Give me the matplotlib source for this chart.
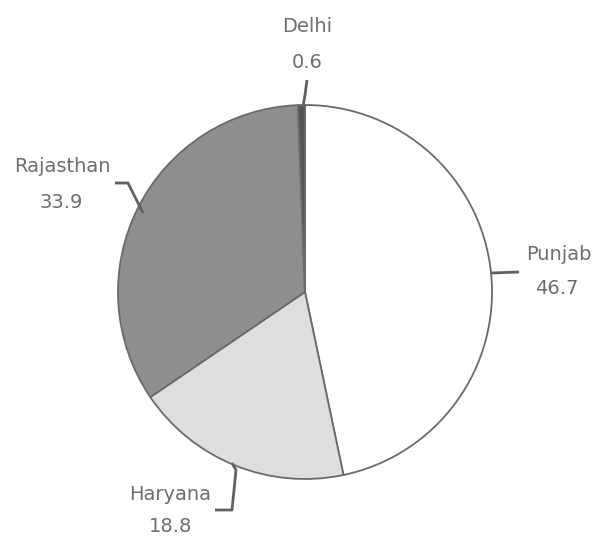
import matplotlib
matplotlib.use("Agg")
import matplotlib.pyplot as plt

states = ["Punjab", "Haryana", "Rajasthan", "Delhi"]
shares = [46.7, 18.8, 33.9, 0.6]
colors = ["#ffffff", "#dedede", "#8e8e8e", "#555555"]

W, H = 598, 536
fig = plt.figure(figsize=(W / 100, H / 100), dpi=100)
ax = fig.add_axes([0, 0, 1, 1])

def Y(y):
    return H - y

cx, cy, r = 305, 292, 187
ax.pie(shares, colors=colors, startangle=90, counterclock=False,
       center=(cx, Y(cy)), radius=r, frame=True,
       wedgeprops=dict(edgecolor="#6a6a6a", linewidth=1.3))
ax.set_xlim(0, W)
ax.set_ylim(0, H)
ax.set_aspect("equal")
ax.axis("off")

tc = "#6e6e6e"
fs = 14
lc = "#606060"

# label positions (pixel coords): name center, value center, leader polyline
layout = {
    "Delhi": ((307, 26), (307, 62), [(307, 80), (305, 95), (303, 107)]),
    "Rajasthan": ((62, 166), (61, 202), [(115, 183), (128, 183), (143, 213)]),
    "Punjab": ((559, 255), (557, 289), [(491, 273), (519, 272)]),
    "Haryana": ((170, 495), (171, 527), [(232, 463), (236, 470), (232, 510), (215, 510)]),
}

for name, val in zip(states, shares):
    (nx, ny), (vx, vy), line = layout[name]
    ax.text(nx, Y(ny), name, ha="center", va="center", fontsize=fs, color=tc,
            family="DejaVu Sans")
    ax.text(vx, Y(vy), f"{val}", ha="center", va="center", fontsize=fs, color=tc,
            family="DejaVu Sans")
    xs = [p[0] for p in line]
    ys = [Y(p[1]) for p in line]
    ax.plot(xs, ys, color=lc, linewidth=2, solid_capstyle="butt")

fig.savefig("out.png", dpi=100)
